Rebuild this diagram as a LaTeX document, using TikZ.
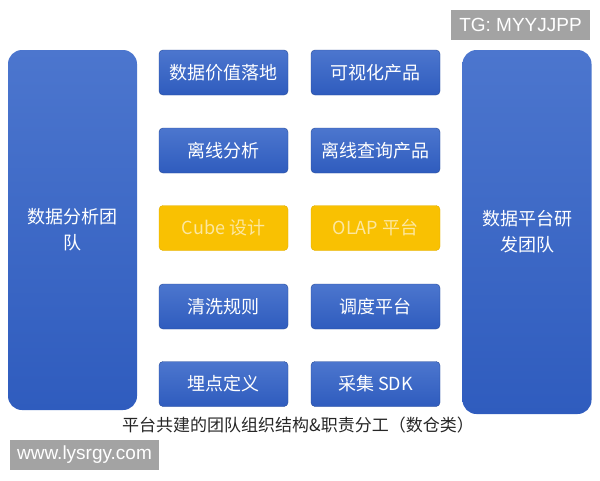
\documentclass[tikz,border=0pt]{standalone}
\usepackage{fontspec}
\setmainfont{Noto Sans CJK SC}
\newfontfamily\markfont{Liberation Sans}
\definecolor{bluetop}{HTML}{4C76CE}
\definecolor{bluebot}{HTML}{2F5CBE}
\definecolor{goldbox}{HTML}{F9C102}
\definecolor{goldtxt}{HTML}{FCE7A0}
\definecolor{markgray}{HTML}{A3A3A3}
\begin{document}
\begin{tikzpicture}[x=1pt,y=-1pt,myteam/.style={rectangle, rounded corners=14pt, top color=bluetop, bottom color=bluebot, draw=none, minimum width=129pt, text=white, font=\fontsize{18}{26}\selectfont, align=center},myunit/.style={rectangle, rounded corners=4pt, top color=bluetop, bottom color=bluebot, draw=bluebot!80!black, line width=0.4pt, minimum width=129pt, minimum height=45pt, text=white, font=\fontsize{18}{21}\selectfont},myunit1/.style={myunit, top color=goldbox, bottom color=goldbox, draw=goldbox!90!black, text=goldtxt},mymark/.style={rectangle, fill=markgray, text=white, inner sep=0pt, font=\markfont\fontsize{19}{22}\selectfont}]
  \useasboundingbox (0,0) rectangle (600,480);
 % \fill[white] (0,0) rectangle (600,480);

  \node[myteam, minimum height=360pt] (ana) at (72.5,230) {数据分析团\\队};
  \node[myteam, minimum height=364pt] (plat) at (527,232) {数据平台研\\发团队};

  \node[myunit] (val) at (223.5,72.5) {数据价值落地};
  \node[myunit] (off) at (223.5,150.5) {离线分析};
  \node[myunit1] (cube) at (223.5,228) {Cube 设计};
  \node[myunit] (clean) at (223.5,306.5) {清洗规则};
  \node[myunit] (track) at (223.5,384) {埋点定义};

  \node[myunit] (vis) at (375.5,72.5) {可视化产品};
  \node[myunit] (query) at (375.5,150.5) {离线查询产品};
  \node[myunit1] (olap) at (375.5,228) {OLAP 平台};
  \node[myunit] (sched) at (375.5,306.5) {调度平台};
  \node[myunit] (sdk) at (375.5,384) {采集 SDK};

  \node[text=black!85, font=\fontsize{17}{20}\selectfont] (cap) at (298,425) {平台共建的团队组织结构\&职责分工（数仓类）};

  \node[mymark, minimum width=139pt, minimum height=30pt] (tg) at (520.5,25) {TG: MYYJJPP};
  \node[mymark, minimum width=149pt, minimum height=30pt] (web) at (84.5,455) {www.lysrgy.com};

\end{tikzpicture}
\end{document}
